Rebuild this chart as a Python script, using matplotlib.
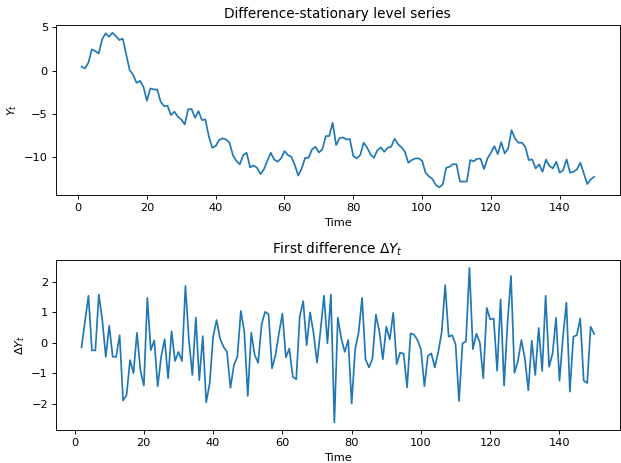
import numpy as np
import matplotlib
matplotlib.use("Agg")
import matplotlib.pyplot as plt

# Level series Y_t, t = 1..150
time_level = np.arange(1, 151)
level = [
    0.47, 0.27, 0.93, 2.47, 2.27, 2.0, 3.62, 4.32, 3.93, 4.39,
    4.0, 3.55, 3.7, 1.85, 0.08, -0.47, -1.39, -1.16, -1.85, -3.46,
    -2.04, -2.16, -2.16, -3.58, -4.08, -4.04, -5.12, -4.73, -5.31, -5.62,
    -6.2, -4.43, -4.43, -5.43, -4.66, -5.7, -5.62, -7.58, -8.89, -8.7,
    -8.0, -7.8, -7.93, -8.3, -9.74, -10.4, -10.8, -9.74, -9.47, -11.16,
    -10.93, -11.2, -11.93, -11.39, -10.4, -9.47, -10.24, -10.5, -10.12, -9.27,
    -9.74, -9.93, -10.9, -12.1, -11.27, -10.05, -10.05, -9.08, -8.78, -9.43,
    -9.08, -7.54, -7.54, -6.0, -8.58, -7.77, -7.7, -7.93, -7.89, -9.85,
    -10.12, -9.74, -8.31, -8.85, -9.66, -10.05, -9.16, -8.85, -9.35, -8.89,
    -8.78, -7.85, -8.47, -8.85, -9.35, -10.62, -10.31, -10.12, -10.12, -10.39,
    -11.77, -12.2, -12.5, -13.2, -13.46, -13.12, -11.2, -11.08, -10.78, -10.8,
    -12.78, -12.8, -12.78, -10.31, -10.45, -10.15, -10.16, -11.35, -10.12, -9.47,
    -8.7, -9.62, -8.24, -9.55, -8.97, -6.85, -7.81, -8.31, -8.31, -8.78,
    -10.31, -10.24, -11.27, -10.81, -11.66, -10.24, -11.0, -11.27, -10.5, -11.77,
    -11.47, -10.24, -11.77, -11.66, -11.39, -10.62, -11.85, -13.08, -12.55, -12.24,
]

# First difference, t = 2..150
time_diff = np.arange(2, 151)
diff = [
    -0.15, 0.7, 1.55, -0.25, -0.25, 1.59, 0.75, -0.46, 0.56,
    -0.46, -0.46, 0.25, -1.9, -1.72, -0.57, -1.0, 0.33, -0.9, -1.41,
    1.48, -0.24, 0.08, -1.43, -0.46, 0.12, -1.17, 0.38, -0.6, -0.3,
    -0.6, 1.87, 0.1, -1.06, 0.83, -1.23, 0.22, -1.96, -1.34, 0.2,
    0.75, 0.14, -0.13, -0.3, -1.48, -0.73, -0.46, 1.05, 0.36, -1.75,
    0.33, -0.4, -0.66, 0.61, 1.02, 0.94, -0.84, -0.4, 0.31, 0.96,
    -0.48, -0.19, -1.12, -1.2, 0.86, 1.37, -0.08, 1.0, 0.31, -0.65,
    0.4, 1.55, -0.02, 1.59, -2.62, 0.83, 0.14, -0.3, 0.09, -2.0,
    -0.22, 0.34, 1.48, -0.54, -0.81, -0.52, 0.93, 0.36, -0.54, 0.53,
    0.11, 0.99, -0.7, -0.32, -0.36, -1.47, 0.31, 0.27, 0.09, -0.22,
    -1.43, -0.43, -0.35, -0.81, -0.3, 0.36, 1.9, 0.2, 0.25, -0.05,
    -1.92, -0.02, 0.05, 2.47, -0.21, 0.3, 0.01, -1.17, 1.15, 0.77,
    0.8, -0.92, 1.43, -1.41, 0.65, 2.2, -0.99, -0.6, 0.09, -0.52,
    -1.56, 0.07, -1.06, 0.49, -0.93, 1.55, -0.79, -0.35, 0.82, -1.25,
    0.2, 1.32, -1.61, 0.2, 0.25, 0.8, -1.25, -1.32, 0.53, 0.29,
]

dpi = 82
fig, (ax1, ax2) = plt.subplots(2, 1, figsize=(621 / dpi, 463 / dpi), dpi=dpi)
fig.subplots_adjust(left=0.090, right=0.998, top=0.946, bottom=0.071, hspace=0.382)

ax1.plot(time_level, level, color="C0")
ax1.set_title("Difference-stationary level series")
ax1.set_xlabel("Time")
ax1.set_ylabel("$Y_t$")

ax2.plot(time_diff, diff, color="C0")
ax2.set_title(r"First difference $\Delta Y_t$")
ax2.set_xlabel("Time")
ax2.set_ylabel(r"$\Delta Y_t$")

fig.savefig("out.png", dpi=dpi)
